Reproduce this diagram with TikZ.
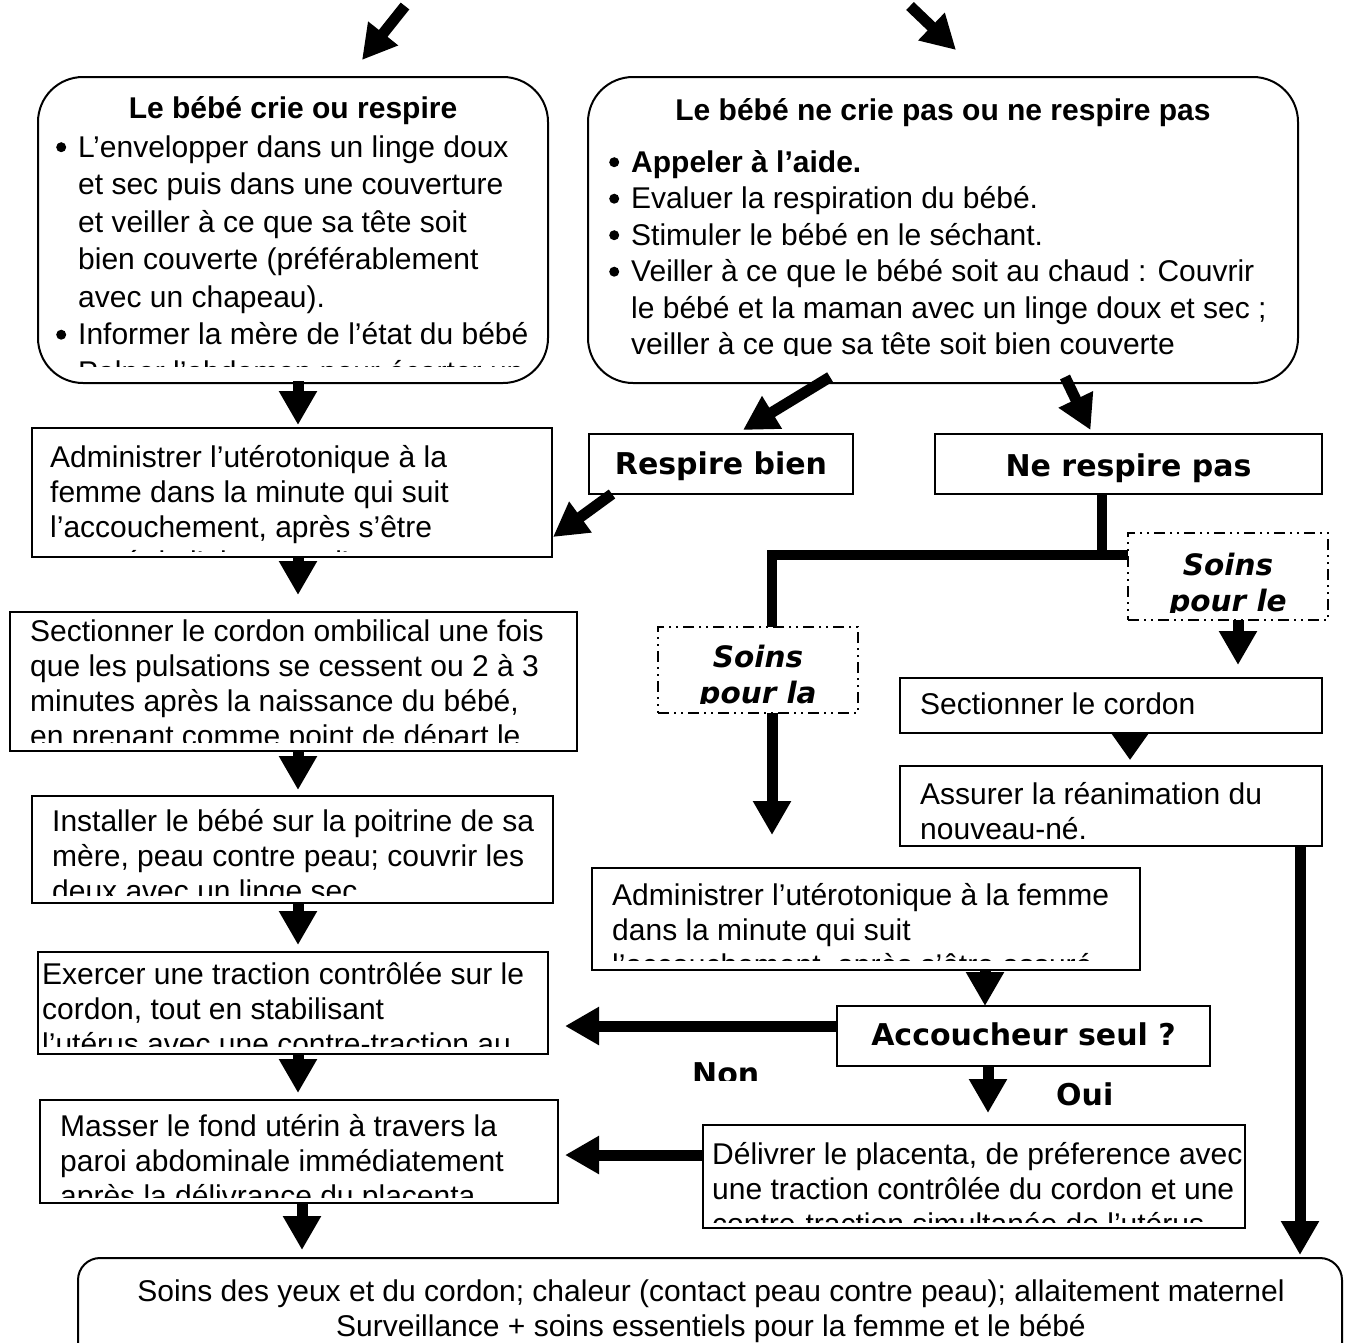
\documentclass[tikz,border=0pt]{standalone}
\usepackage{fontspec}
\setmainfont{Liberation Sans}
\newfontfamily\vb{DejaVu Sans}[BoldFont={DejaVu Sans Bold},BoldItalicFont={DejaVu Sans Bold Oblique}]
\usetikzlibrary{arrows.meta,calc}
\newcommand\blt{\makebox[22pt][l]{\tikz[x=1pt,y=1pt,baseline=0pt]{\fill (5,10) circle (5);}}}
\newcommand\ind{\hspace*{22pt}}
\begin{document}
\begin{tikzpicture}[x=1pt,y=-1pt,
 box/.style={draw,line width=2pt,anchor=north west,inner sep=0pt,outer sep=0pt},
 rbox/.style={box,rounded corners=45pt},
 dbox/.style={draw,line width=1.5pt,dash pattern=on 11pt off 5pt on 2pt off 5pt on 2pt off 5pt,anchor=north west,inner sep=0pt,outer sep=0pt},
 txt/.style={anchor=north west,inner sep=0pt,align=left,font=\fontsize{30}{35}\selectfont},
 ttl/.style={anchor=base,inner sep=0pt,font=\bfseries\fontsize{30}{35}\selectfont},
 lab/.style={anchor=base,inner sep=0pt,font=\vb\bfseries\fontsize{30}{35}\selectfont},
 ilab/.style={anchor=north,inner sep=0pt,align=center,font=\vb\bfseries\itshape\fontsize{29.5}{36}\selectfont},
 conn/.style={line width=11pt,-{Triangle[width=36pt,length=#1]}},
 conn/.default=34pt,
 bar/.style={line width=10pt}]
\useasboundingbox (0,0) rectangle (1348,1342);
\clip (0,0) rectangle (1348,1342);

% ---------- top rounded boxes
\node[rbox,minimum width=510pt,minimum height=306pt] (a) at (38,77) {};
\node[rbox,minimum width=710pt,minimum height=306pt] (b) at (588,77) {};
\node[ttl] (at) at (293,118) {Le bébé crie ou respire};
\node[ttl] (bt) at (943,120) {Le bébé ne crie pas ou ne respire pas};
\begin{scope}
\clip (40,125) rectangle (546,366);
\node[txt,font=\fontsize{30}{37.5}\selectfont] (atx) at (56,131) {\rule{0pt}{26pt}\blt L’envelopper dans un linge doux\\\ind et sec puis dans une couverture\\\ind et veiller à ce que sa tête soit\\\ind bien couverte (préférablement\\\ind avec un chapeau).\\\blt Informer la mère de l’état du bébé\\\blt Palper l’abdomen pour écarter un};
\end{scope}
\begin{scope}
\clip (590,130) rectangle (1296,355);
\node[txt,font=\fontsize{30}{36.5}\selectfont] (btx) at (609,146) {\rule{0pt}{26pt}\blt\textbf{Appeler à l’aide.}\\\blt Evaluer la respiration du bébé.\\\blt Stimuler le bébé en le séchant.\\\blt Veiller à ce que le bébé soit au chaud : Couvrir\\\ind le bébé et la maman avec un linge doux et sec ;\\\ind veiller à ce que sa tête soit bien couverte};
\end{scope}

% ---------- left column
\node[box,minimum width=520pt,minimum height=129pt] (c) at (32,428) {};
\begin{scope}
\clip (34,430) rectangle (550,551);
\node[txt] (ctx) at (50,441) {\rule{0pt}{26pt}Administrer l’utérotonique à la\\femme dans la minute qui suit\\l’accouchement, après s’être\\assuré de l’absence d’un autre};
\end{scope}
\node[box,minimum width=567pt,minimum height=139pt] (d) at (10,612) {};
\begin{scope}
\clip (12,614) rectangle (575,742);
\node[txt] (dtx) at (30,615) {\rule{0pt}{26pt}Sectionner le cordon ombilical une fois\\que les pulsations se cessent ou 2 à 3\\minutes après la naissance du bébé,\\en prenant comme point de départ le};
\end{scope}
\node[box,minimum width=521pt,minimum height=107pt] (e) at (32,796) {};
\begin{scope}
\clip (34,798) rectangle (551,895);
\node[txt] (etx) at (52,805) {\rule{0pt}{26pt}Installer le bébé sur la poitrine de sa\\mère, peau contre peau; couvrir les\\deux avec un linge sec};
\end{scope}
\node[box,minimum width=510pt,minimum height=102pt] (f) at (38,952) {};
\begin{scope}
\clip (40,954) rectangle (546,1046);
\node[txt] (ftx) at (42,958) {\rule{0pt}{26pt}Exercer une traction contrôlée sur le\\cordon, tout en stabilisant\\l’utérus avec une contre-traction au};
\end{scope}
\node[box,minimum width=518pt,minimum height=103pt] (g) at (40,1100) {};
\begin{scope}
\clip (42,1102) rectangle (556,1197);
\node[txt] (gtx) at (60,1110) {\rule{0pt}{26pt}Masser le fond utérin à travers la\\paroi abdominale immédiatement\\après la délivrance du placenta};
\end{scope}
\node[box,rounded corners=22pt,minimum width=1264pt,minimum height=150pt] (h) at (78,1258) {};
\node[txt,anchor=north,align=center] (htx) at (711,1275) {\rule{0pt}{26pt}Soins des yeux et du cordon; chaleur (contact peau contre peau); allaitement maternel\\Surveillance + soins essentiels pour la femme et le bébé};

% ---------- right part
\node[box,minimum width=264pt,minimum height=60pt] (rb) at (589,434) {};
\node[lab] (rbt) at (721,474) {Respire bien};
\node[box,minimum width=387pt,minimum height=60pt] (nrp) at (935,434) {};
\node[lab] (nrpt) at (1128.5,476) {Ne respire pas};

\node[dbox,minimum width=200pt,minimum height=87pt] (spe) at (1128,533) {};
\begin{scope}
\clip (1130,535) rectangle (1326,612);
\node[ilab] (spet) at (1228,549) {\rule{0pt}{26pt}Soins\\pour le};
\end{scope}
\node[dbox,minimum width=200pt,minimum height=86pt] (spa) at (658,627) {};
\begin{scope}
\clip (660,629) rectangle (856,703);
\node[ilab] (spat) at (758,641) {\rule{0pt}{26pt}Soins\\pour la};
\end{scope}

\node[box,minimum width=422pt,minimum height=55pt] (sect) at (900,678) {};
\node[txt] (sectt) at (920,688) {\rule{0pt}{26pt}Sectionner le cordon};
\node[box,minimum width=422pt,minimum height=80pt] (ass) at (900,766) {};
\begin{scope}
\clip (902,768) rectangle (1320,840);
\node[txt] (asst) at (920,778) {\rule{0pt}{26pt}Assurer la réanimation du\\nouveau-né.};
\end{scope}
\node[box,minimum width=548pt,minimum height=102pt] (adm) at (592,868) {};
\begin{scope}
\clip (594,870) rectangle (1138,960);
\node[txt] (admt) at (612,879) {\rule{0pt}{26pt}Administrer l’utérotonique à la femme\\dans la minute qui suit\\l’accouchement, après s’être assuré};
\end{scope}
\node[box,minimum width=373pt,minimum height=60pt] (acc) at (837,1006) {};
\node[lab] (acct) at (1023.5,1045) {Accoucheur seul ?};
\node[box,minimum width=542pt,minimum height=103pt] (del) at (703,1125) {};
\begin{scope}
\clip (705,1127) rectangle (1244,1222);
\node[txt] (delt) at (712,1138) {\rule{0pt}{26pt}Délivrer le placenta, de préference avec\\une traction contrôlée du cordon et une\\contre-traction simultanée de l’utérus};
\end{scope}
\begin{scope}
\clip (680,1050) rectangle (800,1080);
\node[lab,anchor=base west] (non) at (692,1084) {Non};
\end{scope}
\node[lab,anchor=base west] (oui) at (1056,1105) {Oui};

% ---------- connectors
\coordinate (t1) at (405,6);
\coordinate (t1e) at (362,60);
\coordinate (t2) at (910,6);
\coordinate (t2e) at (956,50);
\draw[conn] (t1) -- (t1e);
\draw[conn] (t2) -- (t2e);

\draw[conn] ($(a.south)+(5,-2)$) -- ($(c.north)+(6,-3)$);
\draw[conn] ($(c.south)+(6,0)$) -- ($(d.north)+(4.5,-17)$);
\draw[conn] ($(d.south)+(4.5,0)$) -- ($(e.north)+(5.5,-6)$);
\draw[conn] ($(e.south)+(5.5,0)$) -- ($(f.north)+(5,-7)$);
\draw[conn] ($(f.south)+(5,0)$) -- ($(g.north)+(-1,-7)$);
\draw[conn] ($(g.south)+(3,0)$) -- ($(h.north west)+(224,-8)$);

\draw[conn] ($(b.south west)+(242,-6)$) -- ($(rb.north)+(22,-4)$);
\draw[conn] ($(b.south west)+(477,-6)$) -- ($(nrp.north)+(-38,-4)$);
\draw[conn] ($(rb.south west)+(23,0)$) -- ($(c.north east)+(1,109)$);

\draw[bar] ($(nrp.south)+(-26.5,0)$) -- ($(nrp.south)+(-26.5,61)$);
\draw[bar] ($(spe.north west)+(0,22)$) -- ($(spa.north)+(14,-72)$) -- ($(spa.north)+(14,0)$);
\draw[conn] ($(spe.south)+(10,0)$) -- ($(sect.north)+(127,-13)$);
\draw[conn] ($(spa.south)+(14,0)$) -- ($(adm.north west)+(180,-33)$);
\draw[conn=27pt] ($(sect.south)+(19,0)$) -- ($(ass.north)+(19,-6)$);
\draw[conn] ($(ass.south east)+(-22,0)$) -- ($(h.north east)+(-42,-3)$);
\draw[conn=34pt] ($(adm.south west)+(393,0)$) -- ($(acc.north west)+(148,0)$);
\draw[conn] ($(acc.north west)+(0,20)$) -- ($(f.north east)+(17,74)$);
\draw[conn] ($(acc.south west)+(151,0)$) -- ($(del.north west)+(285,-12)$);
\draw[conn] ($(del.north west)+(0,30)$) -- ($(g.north east)+(7,55)$);
\end{tikzpicture}
\end{document}
